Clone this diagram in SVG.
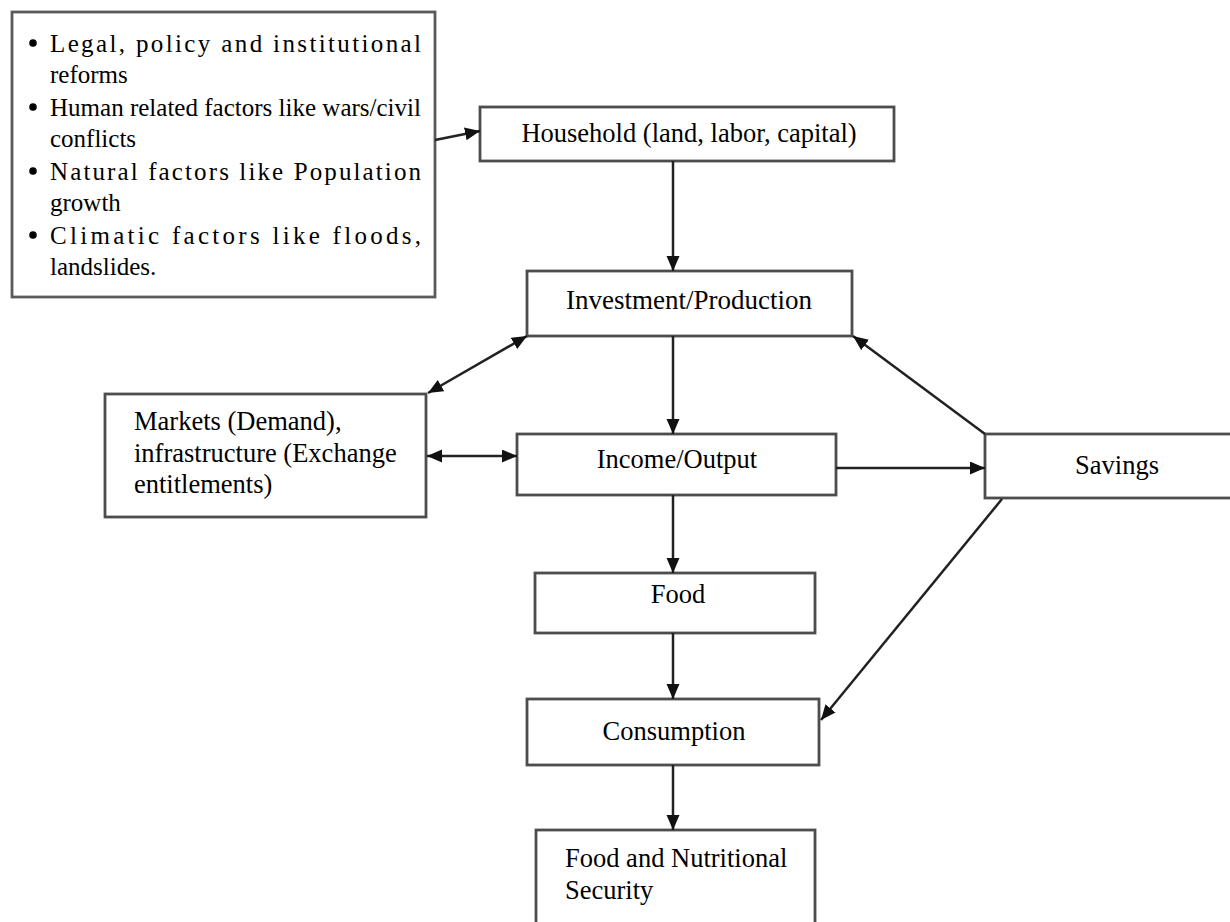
<svg xmlns="http://www.w3.org/2000/svg" width="1230" height="922" viewBox="0 0 1230 922">
<style>
.box{fill:#fff;stroke:#4d4d4d;stroke-width:2.8}
.t{font-family:"Liberation Serif","Times New Roman",serif;font-size:26.5px;fill:#000}
.s{font-family:"Liberation Serif","Times New Roman",serif;font-size:25px;fill:#000}
.c{fill:none;stroke:#222;stroke-width:2.5}
.bul{fill:#000}
</style>
<defs>
<marker id="ah" markerUnits="userSpaceOnUse" markerWidth="16" markerHeight="14" refX="15" refY="6.5" orient="auto-start-reverse">
<path d="M0,0 L15,6.5 L0,13 z" fill="#111"/>
</marker>
</defs>
<rect width="1230" height="922" fill="#fff"/>

<g id="factors">
<rect class="box" x="12" y="12" width="423" height="285" style="stroke:#5a5a5a"/>
<circle class="bul" cx="33" cy="43" r="3.8"/>
<text class="s" x="50" y="52" textLength="371" lengthAdjust="spacing">Legal, policy and institutional</text>
<text class="s" x="50" y="83">reforms</text>
<circle class="bul" cx="33" cy="107" r="3.8"/>
<text class="s" x="50" y="116" textLength="371" lengthAdjust="spacingAndGlyphs">Human related factors like wars/civil</text>
<text class="s" x="50" y="147">conflicts</text>
<circle class="bul" cx="33" cy="171" r="3.8"/>
<text class="s" x="50" y="180" textLength="371" lengthAdjust="spacing">Natural factors like Population</text>
<text class="s" x="50" y="211">growth</text>
<circle class="bul" cx="33" cy="235" r="3.8"/>
<text class="s" x="50" y="244" textLength="371" lengthAdjust="spacing">Climatic factors like floods,</text>
<text class="s" x="50" y="275">landslides.</text>
</g>

<g id="household">
<rect class="box" x="480" y="107" width="414" height="54"/>
<text class="t" x="689" y="142" text-anchor="middle">Household (land, labor, capital)</text>
</g>

<g id="investment">
<rect class="box" x="527" y="271" width="325" height="65"/>
<text class="t" x="689" y="309" text-anchor="middle" style="font-size:27px">Investment/Production</text>
</g>

<g id="markets">
<rect class="box" x="105" y="394" width="321" height="123"/>
<text class="t" x="134" y="430">Markets (Demand),</text>
<text class="t" x="134" y="462">infrastructure (Exchange</text>
<text class="t" x="134" y="493">entitlements)</text>
</g>

<g id="income">
<rect class="box" x="517" y="434" width="319" height="61"/>
<text class="t" x="677" y="468" text-anchor="middle">Income/Output</text>
</g>

<g id="savings">
<rect class="box" x="985" y="434" width="265" height="64"/>
<text class="t" x="1117" y="474" text-anchor="middle">Savings</text>
</g>

<g id="food">
<rect class="box" x="535" y="573" width="280" height="60"/>
<text class="t" x="678" y="603" text-anchor="middle">Food</text>
</g>

<g id="consumption">
<rect class="box" x="527" y="699" width="292" height="66"/>
<text class="t" x="674" y="740" text-anchor="middle">Consumption</text>
</g>

<g id="security">
<rect class="box" x="536" y="830" width="279" height="110"/>
<text class="t" x="565" y="867">Food and Nutritional</text>
<text class="t" x="565" y="899">Security</text>
</g>

<g id="connectors">
<line class="c" x1="435" y1="140" x2="480" y2="131" marker-end="url(#ah)"/>
<line class="c" x1="673" y1="161" x2="673" y2="271" marker-end="url(#ah)"/>
<line class="c" x1="527" y1="336" x2="428" y2="393" marker-start="url(#ah)" marker-end="url(#ah)"/>
<line class="c" x1="673" y1="336" x2="673" y2="434" marker-end="url(#ah)"/>
<line class="c" x1="427" y1="456" x2="517" y2="456" marker-start="url(#ah)" marker-end="url(#ah)"/>
<line class="c" x1="836" y1="468" x2="985" y2="468" marker-end="url(#ah)"/>
<line class="c" x1="985" y1="434" x2="853" y2="336" marker-end="url(#ah)"/>
<line class="c" x1="1002" y1="499" x2="821" y2="720" marker-end="url(#ah)"/>
<line class="c" x1="673" y1="495" x2="673" y2="573" marker-end="url(#ah)"/>
<line class="c" x1="673" y1="633" x2="673" y2="699" marker-end="url(#ah)"/>
<line class="c" x1="673" y1="765" x2="673" y2="830" marker-end="url(#ah)"/>
</g>
</svg>
